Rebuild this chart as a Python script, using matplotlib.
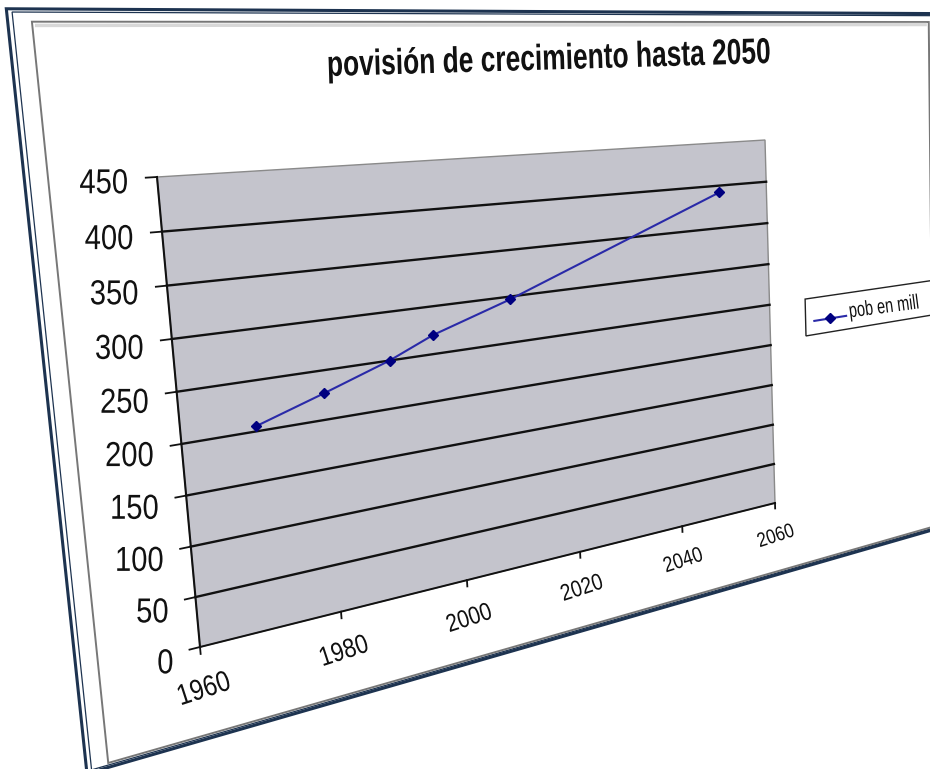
import numpy as np
import matplotlib
matplotlib.use('Agg')
import matplotlib.pyplot as plt
from matplotlib import transforms as mtransforms
from matplotlib import patheffects
from matplotlib.patches import Polygon

# population projection, millions
years = [1970, 1980, 1990, 1997, 2010, 2050]
pob = [205, 227, 250, 270, 297, 392]

x_ticks = [1960, 1980, 2000, 2020, 2040, 2060]
y_ticks = [0, 50, 100, 150, 200, 250, 300, 350, 400, 450]
title = 'povisión de crecimiento hasta 2050'
series_name = 'pob en mill'

W, H_PX = 930, 769
FONT = 'Liberation Sans'


def fit_homography(src, dst):
    rows, rhs = [], []
    for (u, v), (x, y) in zip(src, dst):
        rows.append([u, v, 1, 0, 0, 0, -u * x, -v * x])
        rows.append([0, 0, 0, u, v, 1, -u * y, -v * y])
        rhs += [x, y]
    h = np.linalg.solve(np.array(rows, float), np.array(rhs, float))
    return np.append(h, 1.0).reshape(3, 3)


class Perspective(mtransforms.Transform):
    """Projective map from the unit square of the plot area onto the page."""
    input_dims = 2
    output_dims = 2
    is_separable = False
    has_inverse = False

    def __init__(self, matrix):
        super().__init__()
        self.matrix = np.asarray(matrix, float)

    def transform_non_affine(self, values):
        values = np.asarray(values, float)
        xy = values.reshape(-1, 2)
        p = np.column_stack([xy, np.ones(len(xy))]) @ self.matrix.T
        out = p[:, :2] / p[:, 2:3]
        return out.reshape(values.shape)

    def depth(self, u, v):
        return self.matrix[2, 0] * u + self.matrix[2, 1] * v + self.matrix[2, 2]


class Squeeze(patheffects.AbstractPathEffect):
    """Draws glyphs narrowed along the baseline."""

    def __init__(self, sx=0.84, pivot=0.5):
        super().__init__()
        self._sx = sx
        self._pivot = pivot

    def draw_path(self, renderer, gc, tpath, affine, rgbFace=None):
        xs = tpath.vertices[:, 0]
        px = xs.min() + self._pivot * (xs.max() - xs.min())
        squeeze = mtransforms.Affine2D().translate(-px, 0).scale(self._sx, 1).translate(px, 0)
        renderer.draw_path(gc, tpath, squeeze + affine, rgbFace)


fig = plt.figure(figsize=(W / 100, H_PX / 100), dpi=100)
ax = fig.add_axes([0, 0, 1, 1])
ax.set_autoscale_on(False)
ax.set_xlim(0, W)
ax.set_ylim(H_PX, 0)
ax.axis('off')

# plot area corners on the page: bottom-left, bottom-right, top-right, top-left
persp = Perspective(fit_homography(
    [(0, 0), (1, 0), (1, 1), (0, 1)],
    [(200, 647), (775, 503), (765, 140), (157, 177)]))
uv_tf = persp + ax.transData
x0, x1 = x_ticks[0], x_ticks[-1]
ymax = y_ticks[-1]
chart_tf = mtransforms.Affine2D().translate(-x0, 0).scale(1 / (x1 - x0), 1 / ymax) + uv_tf

# page frame and chart area
navy = '#1d3350'
for (ul, ur, vb, vt), lw in [((-0.157, 1.45, -0.207, 1.333), 2.2), ((-0.151, 1.44, -0.202, 1.327), 0.9)]:
    ax.add_patch(Polygon([(ul, vb), (ur, vb), (ur, vt), (ul, vt)], closed=True, fill=False,
                         edgecolor=navy, lw=lw, transform=uv_tf, zorder=1))
ax.add_patch(Polygon([(-0.13, -0.1975), (1.39, -0.1975), (1.39, 1.309), (-0.13, 1.309)], closed=True,
                     facecolor='white', edgecolor='#777777', lw=1.4, transform=uv_tf, zorder=2))
ax.add_patch(Polygon([(-0.127, 1.302), (1.385, 1.302)], closed=False, fill=False,
                     edgecolor='#d8d8d8', lw=2.5, transform=uv_tf, zorder=2))

# plot area
ax.add_patch(Polygon([(x0, 0), (x1, 0), (x1, ymax), (x0, ymax)], closed=True,
                     facecolor='#c4c4cc', edgecolor='#8a8a8a', lw=1.0, transform=chart_tf, zorder=3))
for t in y_ticks[1:-1]:
    ax.plot([x0, x1], [t, t], color='#111111', lw=1.7, transform=chart_tf, zorder=4)
ax.plot([x0, x0], [0, ymax], color='#111111', lw=1.5, transform=chart_tf, zorder=5)
ax.plot([x0, x1], [0, 0], color='#111111', lw=1.4, transform=chart_tf, zorder=5)
for t in y_ticks:
    ax.plot([x0 - 1.4, x0], [t, t], color='#111111', lw=1.3, transform=chart_tf, zorder=5)
for t in x_ticks:
    ax.plot([t, t], [0, -7], color='#111111', lw=1.3, transform=chart_tf, zorder=5)

# series
ax.plot(years, pob, color='#2a2aa8', lw=1.5, marker='D', ms=5.5,
        mfc='#000080', mec='#000080', transform=chart_tf, zorder=6)

# tick labels
for t in y_ticks:
    shift = 4.5 + 5.5 * (1 - t / ymax)
    ax.text(x0 - 3.6, t - shift, str(t), ha='right', va='center', fontsize=25,
            family=FONT, color='#111111', transform=chart_tf,
            path_effects=[Squeeze(0.84, 1.0)], zorder=7)

for t in x_ticks:
    a = chart_tf.transform([(t - 1, 0), (t + 1, 0)])
    ang = np.degrees(np.arctan2(a[1, 1] - a[0, 1], a[1, 0] - a[0, 0])) + 4
    w = persp.depth((t - x0) / (x1 - x0), 0)
    ax.text(t, -43, str(t), ha='center', va='center', rotation=ang, rotation_mode='anchor',
            fontsize=21 / w ** 1.4, family=FONT, color='#111111', transform=chart_tf,
            path_effects=[Squeeze(0.84, 0.5)], zorder=7)

# title
ax.text(549, 60, title, ha='center', va='center', rotation=1.7, fontsize=26,
        fontweight='bold', family=FONT, color='#111111',
        path_effects=[Squeeze(0.73, 0.5)], zorder=7)

# legend, laid out in plot-area units
ax.add_patch(Polygon([(1.08, 0.4536), (1.45, 0.4536), (1.45, 0.557), (1.08, 0.557)], closed=True,
                     facecolor='white', edgecolor='#222222', lw=1.0, transform=uv_tf, zorder=6))
ax.plot([1.10, 1.1375, 1.175], [0.492, 0.492, 0.492], color='#2a2aa8', lw=1.5,
        marker='D', ms=5.5, markevery=[1], mfc='#000080', mec='#000080', transform=uv_tf, zorder=7)
la = uv_tf.transform([(1.18, 0.5), (1.3, 0.5)])
lang = np.degrees(np.arctan2(la[1, 1] - la[0, 1], la[1, 0] - la[0, 0])) - 1.5
ax.text(849, 312, series_name, ha='left', va='center', rotation=lang, rotation_mode='anchor',
        fontsize=15, family=FONT, color='#111111',
        path_effects=[Squeeze(0.7, 0.0)], zorder=7)

fig.savefig('out.png', dpi=100)
